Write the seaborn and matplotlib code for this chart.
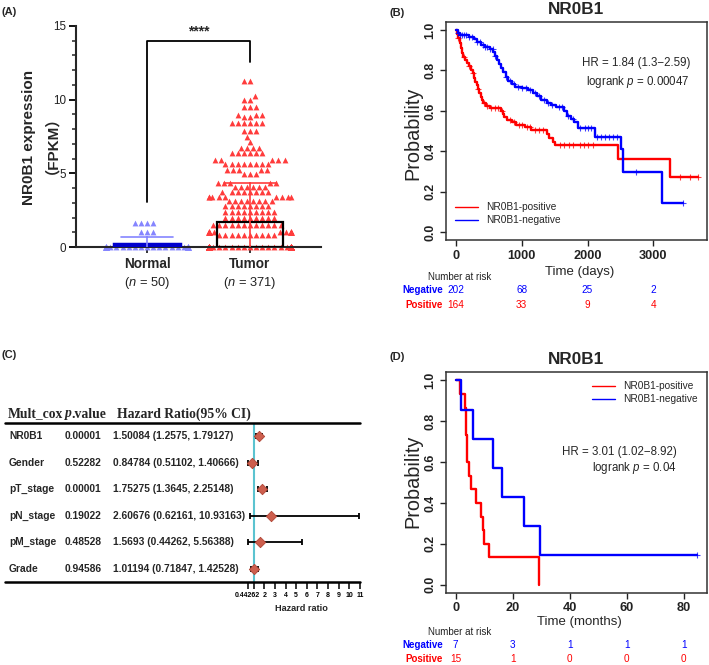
import numpy as np
import pandas as pd
import matplotlib
matplotlib.use("Agg")
import matplotlib.pyplot as plt
import seaborn as sns
from matplotlib.lines import Line2D
from matplotlib.transforms import blended_transform_factory as blend

sns.set_style("ticks")
plt.rcParams['font.family'] = ['Liberation Sans', 'Noto Sans CJK SC', 'DejaVu Sans']
plt.rcParams['mathtext.fontset'] = 'custom'
plt.rcParams['mathtext.rm'] = 'Liberation Sans'
plt.rcParams['mathtext.it'] = 'Liberation Sans:italic'
plt.rcParams['mathtext.bf'] = 'Liberation Sans:bold'

# ---------------- data ----------------
# (A) expression
groups = ["Normal", "Tumor"]
group_n = [50, 371]
normal_levels = [0.0, 1.0, 1.6]
normal_counts = [43, 3, 4]
tumor_levels = [0.0, 0.8, 1.0, 1.5, 1.95, 2.35, 2.75, 3.1, 3.4, 3.75, 4.1, 4.35,
                4.95, 5.2, 5.6, 5.9, 6.35, 6.7, 7.15, 7.5, 7.9, 8.4, 8.8, 8.95,
                9.5, 10.0, 10.25, 11.3]
tumor_counts = [207, 10, 25, 12, 9, 9, 8, 8, 9, 8, 6, 5,
                3, 5, 8, 5, 6, 4, 1, 1, 3, 6, 2, 3,
                3, 2, 1, 2]
sig_label = "****"

# (B) KM, days
b_pos_t = [0, 20, 40, 60, 80, 100, 115, 140, 170, 200, 230, 260, 280, 300, 320, 340,
           360, 380, 400, 420, 460, 520, 680, 720, 740, 780, 850, 920, 1050, 1150,
           1380, 1420, 1480, 1510, 2470, 3250, 3680]
b_pos_s = [1.0, 0.98, 0.96, 0.935, 0.91, 0.885, 0.865, 0.85, 0.835, 0.82, 0.80, 0.785,
           0.765, 0.745, 0.73, 0.71, 0.69, 0.67, 0.655, 0.64, 0.625, 0.615, 0.60, 0.585,
           0.57, 0.555, 0.545, 0.53, 0.52, 0.505, 0.485, 0.465, 0.445, 0.432, 0.36,
           0.27, 0.27]
b_neg_t = [0, 30, 60, 200, 280, 320, 380, 450, 520, 570, 600, 630, 650, 680, 720, 760,
           800, 850, 900, 1000, 1100, 1180, 1230, 1290, 1380, 1450, 1520, 1640, 1690,
           1750, 1800, 1860, 2110, 2510, 2545, 3130, 3445]
b_neg_s = [1.0, 0.985, 0.975, 0.965, 0.955, 0.94, 0.925, 0.915, 0.905, 0.89, 0.87,
           0.85, 0.83, 0.81, 0.79, 0.77, 0.75, 0.735, 0.72, 0.715, 0.705, 0.69, 0.675,
           0.655, 0.64, 0.63, 0.62, 0.60, 0.575, 0.56, 0.545, 0.515, 0.47, 0.41, 0.295,
           0.145, 0.145]
b_pos_cens = [40, 120, 200, 260, 340, 430, 480, 540, 600, 640, 700, 820, 880, 960,
              1000, 1080, 1120, 1200, 1260, 1320, 1580, 1650, 1720, 1780, 1880, 1940,
              2000, 2080, 3400, 3550, 3680]
b_neg_cens = [30, 60, 90, 120, 150, 200, 250, 330, 370, 410, 450, 480, 520, 560, 600,
              760, 820, 880, 940, 1000, 1060, 1120, 1200, 1260, 1340, 1400, 1460, 1560,
              1620, 1700, 1780, 1880, 1960, 2000, 2060, 2150, 2200, 2260, 2320, 2380,
              2440, 2740, 3445]
b_hr_text = "HR = 1.84 (1.3\u22122.59)"
b_p_text = "logrank $\\mathit{p}$ = 0.00047"
b_risk_t = [0, 1000, 2000, 3000]
b_risk_neg = [202, 68, 25, 2]
b_risk_pos = [164, 33, 9, 4]

# (C) multivariate Cox
cox_vars = ["NR0B1", "Gender", "pT_stage", "pN_stage", "pM_stage", "Grade"]
cox_p = ["0.00001", "0.52282", "0.00001", "0.19022", "0.48528", "0.94586"]
cox_hr = [1.50084, 0.84784, 1.75275, 2.60676, 1.5693, 1.01194]
cox_lo = [1.2575, 0.51102, 1.3645, 0.62161, 0.44262, 0.71847]
cox_hi = [1.79127, 1.40666, 2.25148, 10.93163, 5.56388, 1.42528]
cox_ticks = [0.44262, 1, 2, 3, 4, 5, 6, 7, 8, 9, 10, 11]
cox_ticklabels = ["0.44262", "", "2", "3", "4", "5", "6", "7", "8", "9", "10", "11"]

# (D) KM, months
d_pos_t = [0, 1.4, 3.2, 3.5, 3.7, 3.9, 4.1, 4.6, 5.2, 7.0, 8.8, 9.5, 9.8, 11.6, 29.1]
d_pos_s = [1.0, 0.933, 0.867, 0.800, 0.733, 0.667, 0.600, 0.533, 0.467, 0.400,
           0.333, 0.267, 0.200, 0.133, 0.0]
d_neg_t = [0, 1.8, 6.1, 13.1, 16.3, 23.9, 29.6, 84.7]
d_neg_s = [1.0, 0.857, 0.714, 0.571, 0.429, 0.286, 0.143, 0.143]
d_neg_cens = [84.7]
d_pos_cens = []
d_hr_text = "HR = 3.01 (1.02\u22128.92)"
d_p_text = "logrank $\\mathit{p}$ = 0.04"
d_risk_t = [0, 20, 40, 60, 80]
d_risk_neg = [7, 3, 1, 1, 1]
d_risk_pos = [15, 1, 0, 0, 0]

RED = "#ff0000"
BLUE = "#0000ff"

# ---------------- figure ----------------
W, H = 709, 665
fig = plt.figure(figsize=(W / 100, H / 100), dpi=100)


def rect(l, t, r, b):
    return [l / W, 1 - b / H, (r - l) / W, (b - t) / H]


def fx(x):
    return x / W


def fy(y):
    return 1 - y / H


# ================= (A) =================
dfA = pd.DataFrame({
    "group": np.repeat(groups, group_n),
    "value": np.concatenate([np.repeat(normal_levels, normal_counts),
                             np.repeat(tumor_levels, tumor_counts)]),
})
axA = fig.add_axes(rect(76, 26, 321, 247))
sns.swarmplot(data=dfA[dfA.group == "Normal"], x="group", y="value", order=groups,
              color="#8585ff", marker="^", size=4.2, linewidth=0, ax=axA,
              warn_thresh=1.0, zorder=2)
sns.swarmplot(data=dfA[dfA.group == "Tumor"], x="group", y="value", order=groups,
              color="#ff3c3c", marker="^", size=4.2, linewidth=0, ax=axA,
              warn_thresh=1.0, zorder=2)
for c in axA.collections:
    c.set_clip_on(False)
sns.barplot(data=dfA[dfA.group == "Normal"], x="group", y="value", order=groups,
            errorbar="sd", color="#0000cc", saturation=1, width=0.65,
            edgecolor="#0000cc", linewidth=2.5, capsize=0.5,
            err_kws={"color": "#8585ff", "linewidth": 1.2, "zorder": 5},
            ax=axA, zorder=4)
sns.barplot(data=dfA[dfA.group == "Tumor"], x="group", y="value", order=groups,
            errorbar="sd", fill=False, color="black", width=0.65,
            linewidth=1.6, capsize=0.5,
            err_kws={"color": "#ff3c3c", "linewidth": 1.2, "zorder": 5},
            ax=axA, zorder=4)
axA.set_xlim(-0.69, 1.69)
axA.set_ylim(0, 15)
axA.plot([0, 0, 1, 1], [3.08, 13.98, 13.98, 12.54], color="black", lw=1.3,
         clip_on=False)
axA.text(0.5, 14.15, sig_label, ha="center", va="bottom", fontsize=10,
         fontweight="bold")
sns.despine(ax=axA)
axA.spines["left"].set_linewidth(1.5)
axA.spines["bottom"].set_linewidth(1.5)
axA.set_yticks([0, 5, 10, 15])
axA.set_yticks(np.arange(0, 16, 1), minor=True)
axA.tick_params(axis="y", which="major", length=5, width=1.3, labelsize=8.4,
                colors="black", labelcolor="#222222", pad=2)
axA.tick_params(axis="y", which="minor", length=3, width=1.1)
axA.tick_params(axis="x", length=4, width=1.3, pad=3)
axA.set_xticks([0, 1])
axA.set_xticklabels(groups, fontsize=9.8, fontweight="bold")
axA.set_xlabel("")
axA.set_ylabel("")
trA = blend(axA.transData, fig.transFigure)
for i, n in enumerate(group_n):
    axA.text(i, fy(283), f"($\\mathit{{n}}$ = {n})", transform=trA, ha="center",
             va="center", fontsize=9.3, color="#222222")
fig.text(fx(37), fy(137), "NR0B1 expression\n\uff08FPKM\uff09", rotation=90,
         ha="center", va="center", fontsize=11, fontweight="bold",
         multialignment="center", linespacing=1.05)
fig.text(fx(2), fy(12), "(A)", fontsize=8, fontweight="bold", ha="left", va="center")


# ================= KM helper =================
def km_panel(ax, pos_t, pos_s, neg_t, neg_s, pos_c, neg_c, xlim, xticks):
    df = pd.concat([
        pd.DataFrame({"time": pos_t, "surv": pos_s, "group": "NR0B1-positive"}),
        pd.DataFrame({"time": neg_t, "surv": neg_s, "group": "NR0B1-negative"}),
    ])
    sns.lineplot(data=df, x="time", y="surv", hue="group",
                 hue_order=["NR0B1-positive", "NR0B1-negative"],
                 palette=[RED, BLUE], drawstyle="steps-post", estimator=None,
                 sort=False, legend=False, linewidth=1.7, ax=ax)
    for t, s, c, col in [(pos_t, pos_s, pos_c, RED), (neg_t, neg_s, neg_c, BLUE)]:
        if len(c):
            idx = np.searchsorted(np.asarray(t), np.asarray(c), side="right") - 1
            ax.plot(c, np.asarray(s)[idx], linestyle="none", marker="+", ms=5,
                    mew=0.8, color=col, alpha=0.75)
    ax.set_xlim(*xlim)
    ax.set_ylim(-0.04, 1.04)
    ax.set_xticks(xticks)
    ax.set_yticks([0, 0.2, 0.4, 0.6, 0.8, 1.0])
    ax.set_yticklabels(["0.0", "0.2", "0.4", "0.6", "0.8", "1.0"], rotation=90,
                       va="center", fontweight="bold", fontsize=8.8)
    ax.set_xticklabels([str(v) for v in xticks], fontweight="bold", fontsize=9.2)
    ax.tick_params(length=4.5, width=1, pad=2.5, colors="#222222")
    for sp in ax.spines.values():
        sp.set_linewidth(1.1)
        sp.set_color("#333333")
    ax.set_xlabel("")
    ax.set_ylabel("")


def risk_table(ax, times, neg, pos, y_title, y_neg, y_pos):
    fig.text(fx(428), fy(y_title), "Number at risk", ha="left", va="center",
             fontsize=7, color="#222222")
    fig.text(fx(443), fy(y_neg), "Negative", ha="right", va="center", fontsize=7,
             fontweight="bold", color=BLUE)
    fig.text(fx(443), fy(y_pos), "Positive", ha="right", va="center", fontsize=7,
             fontweight="bold", color=RED)
    tr = blend(ax.transData, fig.transFigure)
    for t, a, b in zip(times, neg, pos):
        ax.text(t, fy(y_neg), str(a), transform=tr, ha="center", va="center",
                fontsize=7.2, color=BLUE)
        ax.text(t, fy(y_pos), str(b), transform=tr, ha="center", va="center",
                fontsize=7.2, color=RED)


leg_handles = [Line2D([], [], color=RED, lw=1), Line2D([], [], color=BLUE, lw=1)]
leg_labels = ["NR0B1-positive", "NR0B1-negative"]

# ================= (B) =================
axB = fig.add_axes(rect(446, 22, 707, 240))
km_panel(axB, b_pos_t, b_pos_s, b_neg_t, b_neg_s, b_pos_cens, b_neg_cens,
         (-147, 3813), [0, 1000, 2000, 3000])
axB.legend(leg_handles, leg_labels, loc="lower left", bbox_to_anchor=(0.0, 0.025),
           frameon=False, fontsize=7.3, handlelength=2.3, labelspacing=0.3,
           handletextpad=0.8)
fig.text(fx(690), fy(63), b_hr_text, ha="right", va="center", fontsize=8.3)
fig.text(fx(689), fy(82), b_p_text, ha="right", va="center", fontsize=8.3)
fig.text(fx(576), fy(9), "NR0B1", ha="center", va="center", fontsize=12.3,
         fontweight="bold")
fig.text(fx(413), fy(133), "Probability", rotation=90, ha="center", va="center",
         fontsize=14.3)
fig.text(fx(580), fy(271.5), "Time (days)", ha="center", va="center", fontsize=9.5)
risk_table(axB, b_risk_t, b_risk_neg, b_risk_pos, 277, 290, 305)
fig.text(fx(390), fy(13), "(B)", fontsize=8, fontweight="bold", ha="left", va="center")

# ================= (D) =================
axD = fig.add_axes(rect(446, 372.3, 707, 592.7))
km_panel(axD, d_pos_t, d_pos_s, d_neg_t, d_neg_s, d_pos_cens, d_neg_cens,
         (-3.39, 88.1), [0, 20, 40, 60, 80])
axD.legend(leg_handles, leg_labels, loc="upper right", bbox_to_anchor=(1.0, 1.0),
           frameon=False, fontsize=7.3, handlelength=2.3, labelspacing=0.3,
           handletextpad=0.8)
fig.text(fx(677), fy(452), d_hr_text, ha="right", va="center", fontsize=8.3)
fig.text(fx(677), fy(468), d_p_text, ha="right", va="center", fontsize=8.3)
fig.text(fx(576), fy(359), "NR0B1", ha="center", va="center", fontsize=12.3,
         fontweight="bold")
fig.text(fx(413), fy(481), "Probability", rotation=90, ha="center", va="center",
         fontsize=14.3)
fig.text(fx(579), fy(621.5), "Time (months)", ha="center", va="center", fontsize=9.5)
risk_table(axD, d_risk_t, d_risk_neg, d_risk_pos, 632, 644.5, 658.5)
fig.text(fx(390), fy(357), "(D)", fontsize=8, fontweight="bold", ha="left", va="center")

# ================= (C) =================
n_rows = len(cox_vars)
rows = np.arange(n_rows)
axC = fig.add_axes(rect(243, 423, 360, 582))
axC.axvline(1, color="#5bc3d0", lw=1.5, zorder=1)
axC.errorbar(cox_hr, rows,
             xerr=[np.array(cox_hr) - np.array(cox_lo), np.array(cox_hi) - np.array(cox_hr)],
             fmt="none", ecolor="black", elinewidth=1.3, capsize=2.3, capthick=1.3,
             zorder=2, clip_on=False)
sns.scatterplot(x=cox_hr, y=rows, marker="D", s=28, color="#cd5f4e",
                edgecolor="#b04535", linewidth=0.6, ax=axC, zorder=3, clip_on=False)
axC.set_xlim(0, 11)
axC.set_ylim(n_rows - 1 + 0.489, -0.489)
for sp in axC.spines.values():
    sp.set_visible(False)
axC.set_yticks([])
axC.set_xticks(cox_ticks)
axC.set_xticklabels(cox_ticklabels, fontsize=5.0, fontweight="bold")
axC.tick_params(axis="x", length=5, width=1.1, pad=2, colors="black")
axC.set_xlabel("Hazard ratio", fontsize=6.6, fontweight="bold", labelpad=3.5)
for yy in (423, 582):
    fig.add_artist(Line2D([fx(5), fx(360)], [fy(yy), fy(yy)], color="black", lw=1.8))
trC = blend(fig.transFigure, axC.transData)
for i in rows:
    axC.text(fx(9), i, cox_vars[i], transform=trC, ha="left", va="center",
             fontsize=7.4, fontweight="bold")
    axC.text(fx(65), i, cox_p[i], transform=trC, ha="left", va="center",
             fontsize=7.4, fontweight="bold")
    axC.text(fx(113), i, f"{cox_hr[i]} ({cox_lo[i]}, {cox_hi[i]})", transform=trC,
             ha="left", va="center", fontsize=7.4, fontweight="bold")
hdr = dict(fontsize=9.8, fontweight="bold", va="center", ha="left",
           family="Liberation Serif")
fig.text(fx(8), fy(414), "Mult_cox", **hdr)
fig.text(fx(65), fy(414), "p", style="italic", **hdr)
fig.text(fx(71.5), fy(414), ".value", **hdr)
fig.text(fx(117), fy(414), "Hazard Ratio(95% CI)", **hdr)
fig.text(fx(2), fy(355), "(C)", fontsize=8, fontweight="bold", ha="left", va="center")

fig.savefig("out.png", dpi=100)
